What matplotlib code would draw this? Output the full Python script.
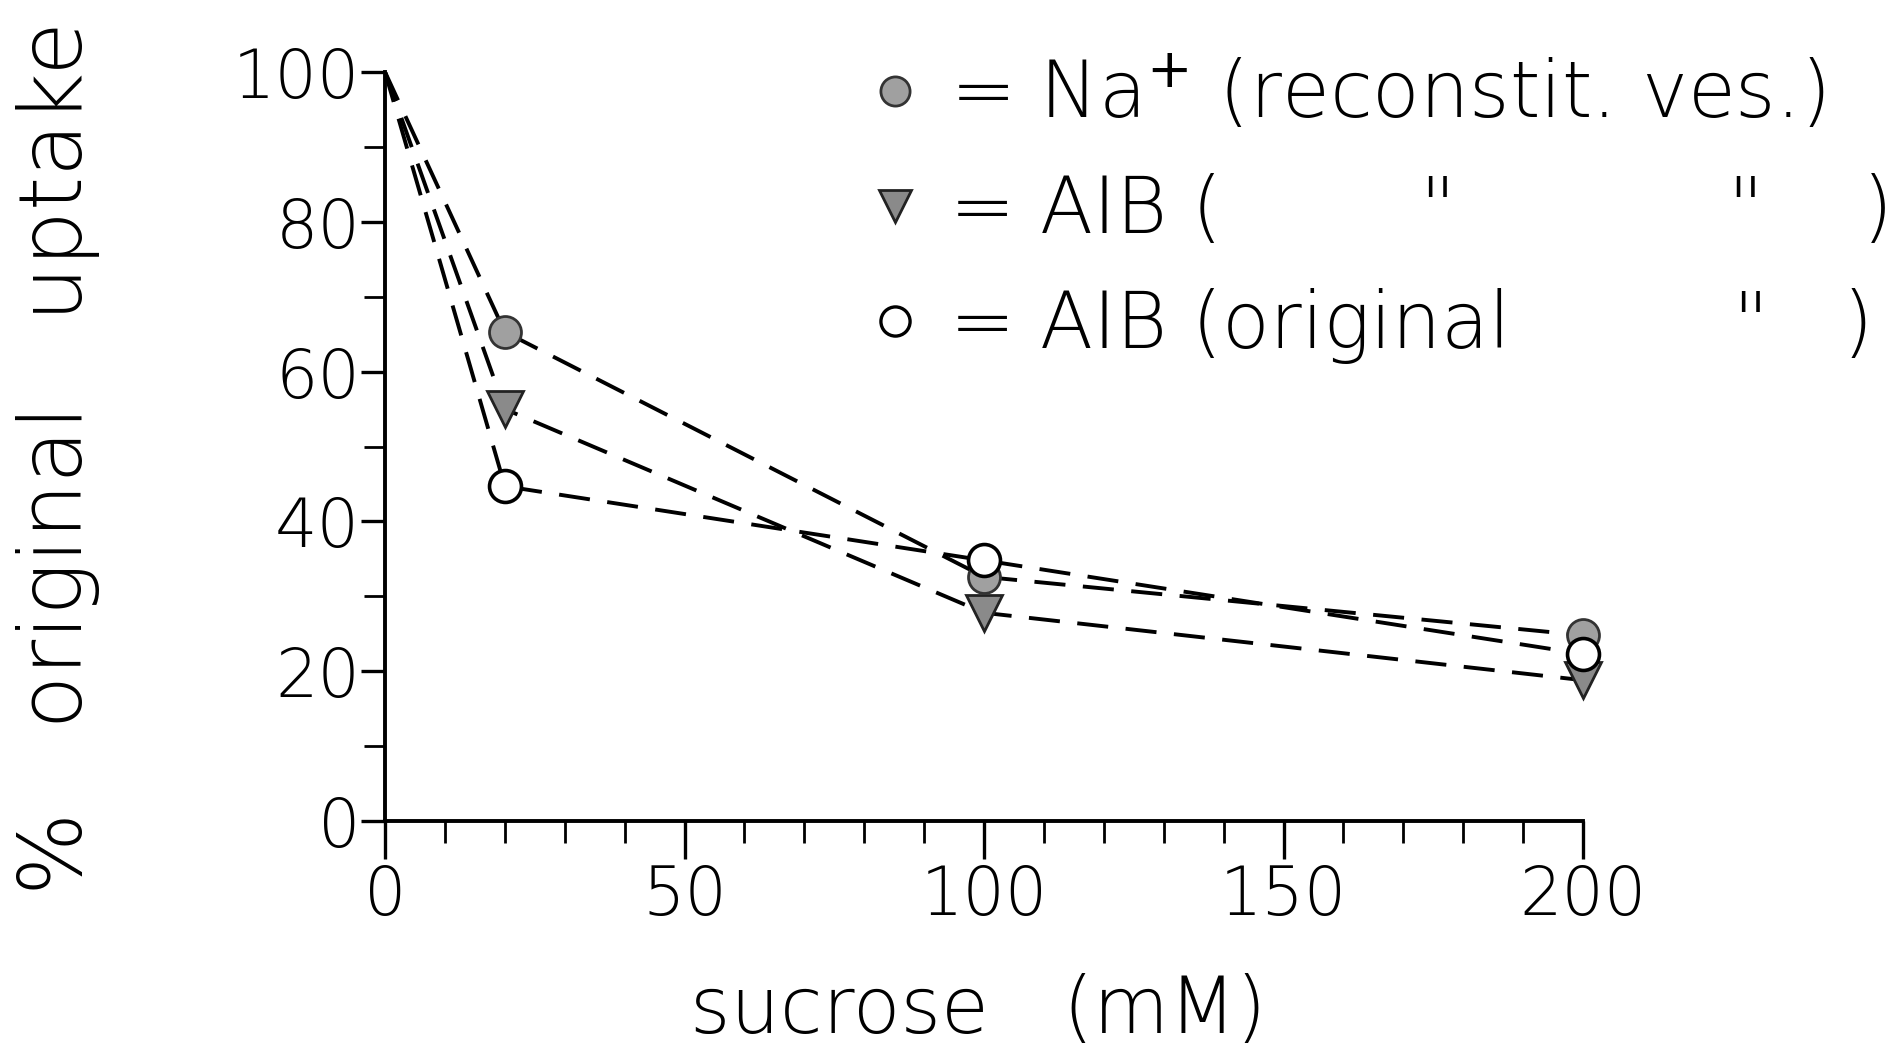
import matplotlib.pyplot as plt
from matplotlib.lines import Line2D
from matplotlib.ticker import MultipleLocator

# sucrose concentration (mM) and % of original uptake
sucrose = [0, 20, 100, 200]
na_reconst = [100, 65.3, 32.6, 24.8]
aib_reconst = [100, 55.0, 27.8, 18.8]
aib_original = [100, 44.7, 34.8, 22.3]

legend_labels = [
    '= Na$^{+}$ (reconstit. ves.)',
    '= AIB (        "           "    )',
    '= AIB (original         "   )',
]

plt.rcParams['font.family'] = 'DejaVu Sans'

fig = plt.figure(figsize=(18.93, 10.53), dpi=100)
ax = fig.add_axes([0.2034, 0.2203, 0.6329, 0.7113])

dash = (0, (8, 4.5))
ax.plot(sucrose, na_reconst, color='black', lw=2.8, linestyle=dash, zorder=2)
ax.plot(sucrose, aib_reconst, color='black', lw=2.8, linestyle=dash, zorder=2)
ax.plot(sucrose, aib_original, color='black', lw=2.8, linestyle=dash, zorder=2)

ax.plot(sucrose[1:], aib_reconst[1:], linestyle='none', marker='v', ms=26,
        mfc='#8a8a8a', mec='#222222', mew=2, zorder=3, clip_on=False)
ax.plot(sucrose[1:], na_reconst[1:], linestyle='none', marker='o', ms=23,
        mfc='#a0a0a0', mec='#333333', mew=2, zorder=4, clip_on=False)
ax.plot(sucrose[1:], aib_original[1:], linestyle='none', marker='o', ms=23,
        mfc='white', mec='black', mew=2.6, zorder=5, clip_on=False)

ax.set_xlim(0, 200)
ax.set_ylim(0, 100)
ax.spines['top'].set_visible(False)
ax.spines['right'].set_visible(False)
ax.spines['left'].set_linewidth(2.8)
ax.spines['bottom'].set_linewidth(2.8)

ax.xaxis.set_major_locator(MultipleLocator(50))
ax.xaxis.set_minor_locator(MultipleLocator(10))
ax.yaxis.set_major_locator(MultipleLocator(20))
ax.yaxis.set_minor_locator(MultipleLocator(10))
ax.tick_params(axis='x', which='major', length=27, width=2.4, direction='out',
               labelsize=48, pad=3)
ax.tick_params(axis='x', which='minor', length=16, width=2, direction='out')
ax.tick_params(axis='y', which='major', length=17, width=2.4, direction='out',
               labelsize=48, pad=1)
ax.tick_params(axis='y', which='minor', length=15, width=2, direction='out')
for lab in ax.get_xticklabels() + ax.get_yticklabels():
    lab.set_fontweight('light')

ax.set_xlabel('sucrose   (mM)', fontsize=56, fontweight='light')
ax.xaxis.set_label_coords(0.495, -0.203)
ax.set_ylabel('%   original   uptake', fontsize=63, fontweight='light')
ax.yaxis.set_label_coords(-0.238, 0.485)

handles = [
    Line2D([], [], linestyle='none', marker='o', ms=21, mfc='#a0a0a0', mec='#333333', mew=2),
    Line2D([], [], linestyle='none', marker='v', ms=23, mfc='#8a8a8a', mec='#222222', mew=2),
    Line2D([], [], linestyle='none', marker='o', ms=21, mfc='white', mec='black', mew=2.4),
]
leg = ax.legend(handles, legend_labels, loc='upper left', bbox_to_anchor=(0.44, 0.984),
                bbox_transform=fig.transFigure, frameon=False, fontsize=56,
                handlelength=0.6, handletextpad=0.4, labelspacing=0.5, borderpad=0)
for t in leg.get_texts():
    t.set_fontweight('light')

fig.savefig('out.png', dpi=100)
